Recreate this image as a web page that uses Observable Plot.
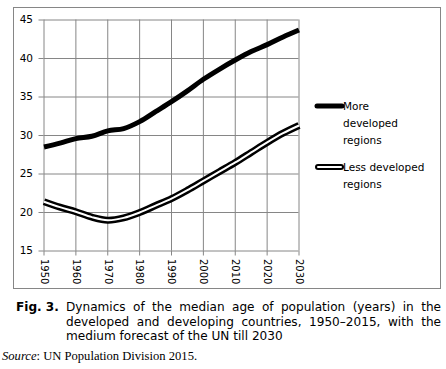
<!DOCTYPE html>
<html>
<head>
<meta charset="utf-8">
<script src="https://cdn.jsdelivr.net/npm/d3@7"></script>
<script src="https://cdn.jsdelivr.net/npm/@observablehq/plot@0.6"></script>
<style>
  html, body { margin: 0; padding: 0; background: #fff; }
  body { width: 446px; height: 369px; position: relative; overflow: hidden; font-family: "DejaVu Sans", Verdana, sans-serif; }
  #frame { position: absolute; left: 13px; top: 7px; width: 428px; height: 282px; box-sizing: border-box; border: 1px solid #868686; }
  #frame svg { position: absolute; left: 0; top: 0; }
  .leg { position: absolute; font-size: 10.5px; line-height: 17px; color: #000; white-space: nowrap; }
  .cap { position: absolute; font-size: 12.1px; line-height: 14.5px; color: #000; white-space: nowrap; }
  .just { text-align: justify; text-align-last: justify; }
  #fig { font-weight: bold; }
  #source { position: absolute; left: 2px; top: 349px; font-family: "Liberation Serif", "Times New Roman", serif; font-size: 12.6px; color: #000; white-space: nowrap; }
</style>
</head>
<body>
<div id="frame"></div>
<div id="fig" class="cap" style="left:16px; top:300px;">Fig. 3.</div>
<div class="cap just" style="left:66px; top:300px; width:375px;">Dynamics of the median age of population (years) in the</div>
<div class="cap just" style="left:66px; top:314.5px; width:375px;">developed and developing countries, 1950–2015, with the</div>
<div class="cap" style="left:66px; top:329px;">medium forecast of the UN till 2030</div>
<div id="source"><i>Source</i>: UN Population Division 2015.</div>
<script>
const years = [1950, 1955, 1960, 1965, 1970, 1975, 1980, 1985, 1990, 1995, 2000, 2005, 2010, 2015, 2020, 2025, 2030];
const moreDeveloped = [28.5, 29.0, 29.6, 29.9, 30.6, 30.9, 31.8, 33.1, 34.4, 35.8, 37.3, 38.6, 39.8, 40.9, 41.8, 42.8, 43.7];
const lessDeveloped = [21.4, 20.7, 20.1, 19.4, 19.0, 19.3, 20.0, 20.9, 21.8, 22.9, 24.1, 25.3, 26.5, 27.8, 29.1, 30.3, 31.3];
const seriesNames = ["More developed regions", "Less developed regions"];
const legendLines = [["More", "developed", "regions"], ["Less developed", "regions"]];
const yTicks = [15, 20, 25, 30, 35, 40, 45];
const xTicks = [1950, 1960, 1970, 1980, 1990, 2000, 2010, 2020, 2030];

const more = years.map((yr, i) => ({year: yr, value: moreDeveloped[i]}));
const less = years.map((yr, i) => ({year: yr, value: lessDeveloped[i]}));

const grid = "#868686";
const chart = Plot.plot({
  width: 426,
  height: 280,
  marginLeft: 29.5,
  marginRight: 141.5,
  marginTop: 11.5,
  marginBottom: 37.5,
  style: {fontFamily: "DejaVu Sans, Verdana, sans-serif", fontSize: "10.5px", color: "#000", background: "transparent", overflow: "visible"},
  x: {domain: [1950, 2030], ticks: xTicks},
  y: {domain: [15, 45], ticks: yTicks},
  marks: [
    Plot.gridX(xTicks, {stroke: grid, strokeOpacity: 1, strokeWidth: 1}),
    Plot.gridY(yTicks, {stroke: grid, strokeOpacity: 1, strokeWidth: 1}),
    Plot.axisY({ticks: yTicks, tickSize: 5, tickPadding: 6, stroke: grid, label: null, fontSize: 10.5}),
    Plot.axisX({ticks: xTicks, tickSize: 5, tickPadding: 3, tickRotate: 90, tickFormat: "d", stroke: grid, label: null, fontSize: 10}),
    Plot.line(more, {x: "year", y: "value", curve: "catmull-rom", stroke: "#000", strokeWidth: 5, strokeLinecap: "butt"}),
    Plot.line(less, {x: "year", y: "value", curve: "catmull-rom", stroke: "#000", strokeWidth: 7, strokeLinecap: "butt"}),
    Plot.line(less, {x: "year", y: "value", curve: "catmull-rom", stroke: "#fff", strokeWidth: 2, strokeLinecap: "butt"})
  ]
});
document.getElementById("frame").appendChild(chart);

// Legend
const legendPos = [{top: 97.5, swatchY: 106}, {top: 158.5, swatchY: 167}];
seriesNames.forEach((name, i) => {
  const div = document.createElement("div");
  div.className = "leg";
  div.style.left = "343px";
  div.style.top = legendPos[i].top + "px";
  div.setAttribute("aria-label", name);
  div.innerHTML = legendLines[i].join("<br>");
  document.body.appendChild(div);
  const sw = d3.create("svg").attr("width", 32).attr("height", 12)
    .style("position", "absolute").style("left", "313px").style("top", (legendPos[i].swatchY - 6) + "px");
  if (i === 0) {
    sw.append("line").attr("x1", 4).attr("x2", 29).attr("y1", 6).attr("y2", 6)
      .attr("stroke", "#000").attr("stroke-width", 5).attr("stroke-linecap", "round");
  } else {
    sw.append("line").attr("x1", 5).attr("x2", 28).attr("y1", 6).attr("y2", 6)
      .attr("stroke", "#000").attr("stroke-width", 6).attr("stroke-linecap", "round");
    sw.append("line").attr("x1", 5).attr("x2", 28).attr("y1", 6).attr("y2", 6)
      .attr("stroke", "#fff").attr("stroke-width", 2).attr("stroke-linecap", "round");
  }
  document.body.appendChild(sw.node());
});
</script>
</body>
</html>
